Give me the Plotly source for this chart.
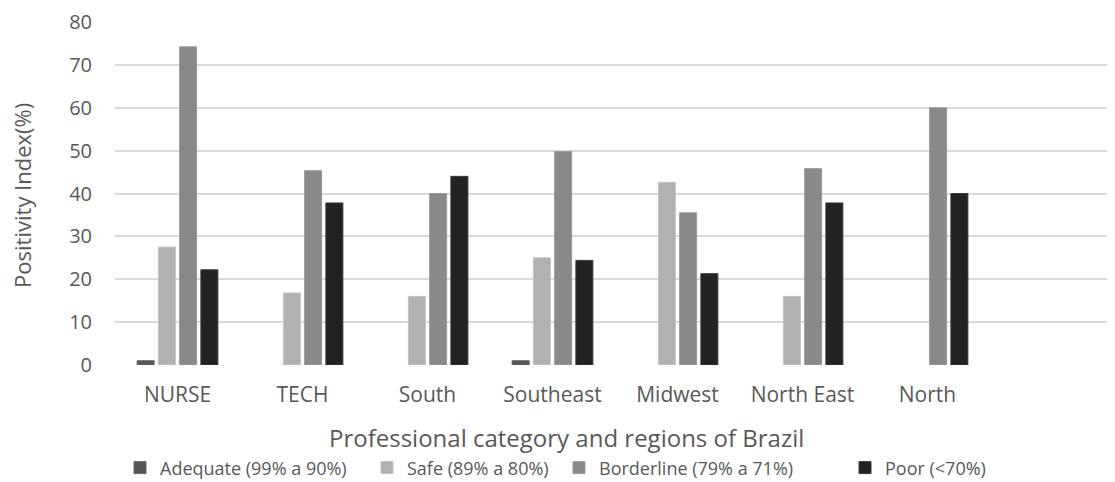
import plotly.graph_objects as go

categories = ["NURSE", "TECH", "South", "Southeast", "Midwest", "North East", "North"]
series_names = ["Adequate (99% a 90%)", "Safe (89% a 80%)", "Borderline (79% a 71%)", "Poor (<70%)"]
adequate = [1, None, None, 1, None, None, None]
safe = [27.5, 16.8, 16, 25, 42.6, 16, None]
borderline = [74.2, 45.3, 40, 49.8, 35.5, 45.8, 60]
poor = [22.2, 37.8, 44, 24.4, 21.3, 37.8, 40]
y_ticks = [0, 10, 20, 30, 40, 50, 60, 70, 80]

colors = ["#555555", "#b1b1b1", "#898989", "#222222"]
outlines = ["#666666", "#c4c4c4", "#9a9a9a", "#3a3a3a"]
values = [adequate, safe, borderline, poor]
legend_ids = ["legend", "legend2", "legend3", "legend4"]
legend_x = [0.005, 0.252, 0.444, 0.730]

fig = go.Figure()
for name, vals, c, oc, lid in zip(series_names, values, colors, outlines, legend_ids):
    fig.add_trace(go.Bar(x=categories, y=vals, name=name, legend=lid,
                         marker=dict(color=c, line=dict(color=oc, width=1))))

legend_style = dict(orientation="h", xanchor="left", y=-0.30, yanchor="middle",
                    font=dict(family="Open Sans", size=18, color="#595959"),
                    bgcolor="rgba(0,0,0,0)")

# page body has an 8px margin; size and margins compensate for it
fig.update_layout(
    width=1107, height=474,
    margin=dict(l=107, r=0, t=14, b=117, autoexpand=False),
    paper_bgcolor="white", plot_bgcolor="white",
    barmode="group", bargap=0.32, bargroupgap=0.2,
    font=dict(family="Open Sans", color="#595959"),
    showlegend=True,
    legend=dict(x=legend_x[0], **legend_style),
    legend2=dict(x=legend_x[1], **legend_style),
    legend3=dict(x=legend_x[2], **legend_style),
    legend4=dict(x=legend_x[3], **legend_style),
    xaxis=dict(type="category", categoryarray=categories, range=[-0.5, 7.5],
               showgrid=False, showline=False, zeroline=False, ticks="",
               tickfont=dict(size=21, color="#595959"), ticklabelstandoff=15,
               automargin=False),
    yaxis=dict(range=[0, 80], tickvals=y_ticks, showgrid=True, gridcolor="#d9d9d9",
               gridwidth=1.5, zeroline=False, showline=False, ticks="",
               tickfont=dict(size=20, color="#595959"), ticklabelstandoff=22,
               automargin=False),
    annotations=[
        dict(text="Professional category and regions of Brazil", xref="paper", yref="paper",
             x=0.451, y=-0.21, xanchor="center", yanchor="middle", showarrow=False,
             font=dict(size=24, color="#595959", family="Open Sans")),
        dict(text="Positivity Index(%)", xref="paper", yref="paper", x=-0.093, y=0.493,
             xanchor="center", yanchor="middle", textangle=-90, showarrow=False,
             font=dict(size=22, color="#595959", family="Open Sans")),
    ],
)

fig.write_html("out.html")
